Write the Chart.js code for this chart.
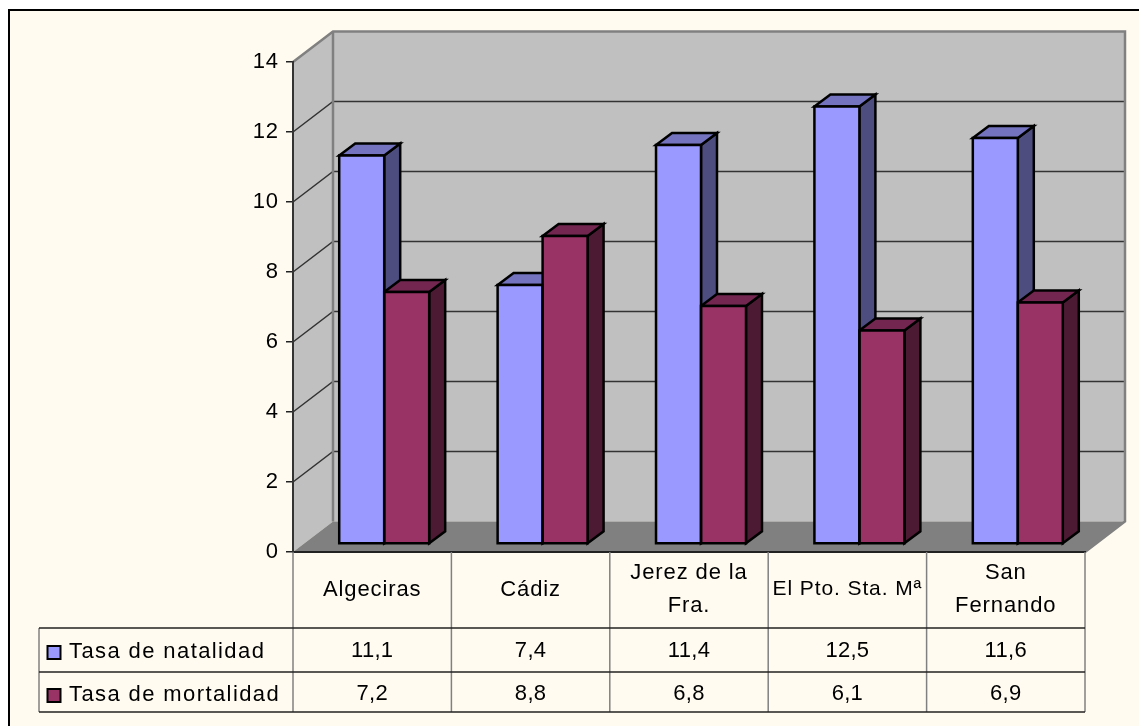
<!DOCTYPE html>
<html><head><meta charset="utf-8">
<style>html,body{margin:0;padding:0;background:#fff}canvas{display:block}</style>
<script src="https://cdn.jsdelivr.net/npm/chart.js@4/dist/chart.umd.min.js"></script>
</head><body><div style="width:1139px;height:726px"><canvas id="c" width="1139" height="726"></canvas></div>
<script>
const categories = ['Algeciras', 'Cádiz', ['Jerez de la','Fra.'], 'El Pto. Sta. Mª', ['San','Fernando']];
const natalidad = [11.1, 7.4, 11.4, 12.5, 11.6];
const mortalidad = [7.2, 8.8, 6.8, 6.1, 6.9];
const seriesNames = ['Tasa de natalidad', 'Tasa de mortalidad'];
const yTicks = [0, 2, 4, 6, 8, 10, 12, 14];

const FONT = '"Liberation Sans", Arial, sans-serif';
const FS = 22, LS = '0.9px';
const WALL_DX = 40, WALL_DY = -30.5;
const BAR_DX = 12, BAR_DY = -8, DEPTH_X = 16, DEPTH_Y = -12;
const TABLE_ROWS = [628, 672, 712], TABLE_LEFT = 39;
const faces = [
  {front:'#9999FF', top:'#7373BF', side:'#4D4D80'},
  {front:'#993366', top:'#732650', side:'#4D1A33'}
];

const scene = {
  id: 'scene',
  beforeDraw(chart) {
    const {ctx, chartArea:a, scales:{y}} = chart;
    ctx.save();
    ctx.letterSpacing = '0px';
    ctx.fillStyle = '#fff'; ctx.fillRect(0,0,1139,726);
    ctx.fillStyle = '#FFFBF0'; ctx.fillRect(9,10,1130,716);
    ctx.fillStyle = '#000'; ctx.fillRect(8,9,1131,2); ctx.fillRect(8,9,2,717);
    const L=a.left,R=a.right,T=a.top,B=a.bottom;
    ctx.fillStyle='#C0C0C0';
    ctx.fillRect(L+WALL_DX,T+WALL_DY,R-L,B-T);
    ctx.beginPath();ctx.moveTo(L,T);ctx.lineTo(L+WALL_DX,T+WALL_DY);ctx.lineTo(L+WALL_DX,B+WALL_DY);ctx.lineTo(L,B);ctx.closePath();ctx.fill();
    ctx.fillStyle='#808080';
    ctx.beginPath();ctx.moveTo(L,B);ctx.lineTo(L+WALL_DX,B+WALL_DY);ctx.lineTo(R+WALL_DX,B+WALL_DY);ctx.lineTo(R,B);ctx.closePath();ctx.fill();
    ctx.strokeStyle='#333';ctx.lineWidth=1.5;
    for(const v of yTicks.slice(1,-1)){
      const p=y.getPixelForValue(v);
      ctx.beginPath();ctx.moveTo(L,p);ctx.lineTo(L+WALL_DX,p+WALL_DY);ctx.lineTo(R+WALL_DX,p+WALL_DY);ctx.stroke();
    }
    ctx.strokeStyle='#808080';ctx.lineWidth=2.5;
    ctx.beginPath();ctx.moveTo(L,T);ctx.lineTo(L+WALL_DX,T+WALL_DY);ctx.lineTo(R+WALL_DX,T+WALL_DY);ctx.lineTo(R+WALL_DX,B+WALL_DY);ctx.lineTo(R,B);ctx.stroke();
    ctx.beginPath();ctx.moveTo(L+WALL_DX,T+WALL_DY);ctx.lineTo(L+WALL_DX,B+WALL_DY);ctx.stroke();
    ctx.restore();
    ctx.letterSpacing = LS;
  },
  beforeDatasetsDraw(chart) {
    const ctx=chart.ctx;
    ctx.save();
    ctx.translate(BAR_DX,BAR_DY);
    ctx.lineWidth=2.5;ctx.strokeStyle='#000';ctx.lineJoin='miter';
    chart.data.datasets.forEach((ds,i)=>{
      chart.getDatasetMeta(i).data.forEach(b=>{
        const l=b.x-b.width/2,r=b.x+b.width/2,t=b.y,bot=b.base;
        ctx.fillStyle=faces[i].side;
        ctx.beginPath();ctx.moveTo(r,t);ctx.lineTo(r+DEPTH_X,t+DEPTH_Y);ctx.lineTo(r+DEPTH_X,bot+DEPTH_Y);ctx.lineTo(r,bot);ctx.closePath();ctx.fill();ctx.stroke();
        ctx.fillStyle=faces[i].top;
        ctx.beginPath();ctx.moveTo(l,t);ctx.lineTo(l+DEPTH_X,t+DEPTH_Y);ctx.lineTo(r+DEPTH_X,t+DEPTH_Y);ctx.lineTo(r,t);ctx.closePath();ctx.fill();ctx.stroke();
      });
    });
  },
  afterDatasetsDraw(chart) {
    const ctx=chart.ctx;
    chart.data.datasets.forEach((ds,i)=>{
      chart.getDatasetMeta(i).data.forEach(b=>{
        ctx.strokeRect(b.x-b.width/2,b.y,b.width,b.base-b.y);
      });
    });
    ctx.restore();
    drawTable(chart);
  }
};

function drawTable(chart){
  const {ctx,chartArea:a,scales:{x}}=chart;
  ctx.save();
  const n=categories.length, step=(a.right-a.left)/n;
  const r2=TABLE_ROWS[2];
  ctx.strokeStyle='#808080';ctx.lineWidth=1.5;
  for(let i=0;i<=n;i++){
    const p=a.left+i*step;
    ctx.beginPath();ctx.moveTo(p,a.bottom);ctx.lineTo(p,r2);ctx.stroke();
  }
  ctx.beginPath();ctx.moveTo(TABLE_LEFT,TABLE_ROWS[0]);ctx.lineTo(TABLE_LEFT,r2);ctx.stroke();
  ctx.strokeStyle='#222';ctx.lineWidth=1.5;
  for(const r of TABLE_ROWS){ctx.beginPath();ctx.moveTo(TABLE_LEFT,r);ctx.lineTo(a.right,r);ctx.stroke();}
  ctx.fillStyle='#000';
  ctx.font=FS+'px '+FONT;ctx.textBaseline='middle';
  const rows=[natalidad,mortalidad], mids=[651,694];
  rows.forEach((vals,ri)=>{
    ctx.textAlign='center';ctx.letterSpacing='0.3px';
    vals.forEach((v,i)=>ctx.fillText(v.toFixed(1).replace('.',','),x.getPixelForValue(i),mids[ri]));
    ctx.textAlign='left';ctx.letterSpacing='1.4px';
    ctx.fillText(seriesNames[ri],69,mids[ri]+1);
    ctx.fillStyle=faces[ri].front;ctx.fillRect(47.5,mids[ri]-5,13,13);
    ctx.strokeStyle='#000';ctx.lineWidth=2;ctx.strokeRect(47.5,mids[ri]-5,13,13);
    ctx.fillStyle='#000';
  });
  ctx.restore();
}

new Chart(document.getElementById('c'),{
  type:'bar',
  data:{labels:categories,datasets:[
    {label:seriesNames[0],data:natalidad,backgroundColor:faces[0].front,borderWidth:0,clip:false},
    {label:seriesNames[1],data:mortalidad,backgroundColor:faces[1].front,borderWidth:0,clip:false}
  ]},
  options:{
    responsive:false,animation:false,
    layout:{padding:{top:62,right:54,left:0,bottom:0}},
    datasets:{bar:{categoryPercentage:0.568,barPercentage:1}},
    plugins:{legend:{display:false},title:{display:false},tooltip:{enabled:false}},
    scales:{
      x:{
        afterFit(s){s.height=174;},
        grid:{display:false,drawTicks:false},
        border:{display:true,color:'#222',width:2},
        ticks:{autoSkip:false,maxRotation:0,minRotation:0,crossAlign:'center',padding:21,color:'#000',
               font:c=>({family:FONT,size:c.index===3?21:FS,lineHeight:c.index===3?1.57:1.5})}
      },
      y:{
        min:0,max:14,
        afterFit(s){s.width=293;},
        afterBuildTicks(s){s.ticks=yTicks.map(v=>({value:v}));},
        grid:{drawOnChartArea:false,drawTicks:true,tickLength:7,color:'#222',lineWidth:1.5},
        border:{display:true,color:'#333',width:2},
        ticks:{padding:7,color:'#000',font:{family:FONT,size:FS}}
      }
    }
  },
  plugins:[scene]
});
</script></body></html>
